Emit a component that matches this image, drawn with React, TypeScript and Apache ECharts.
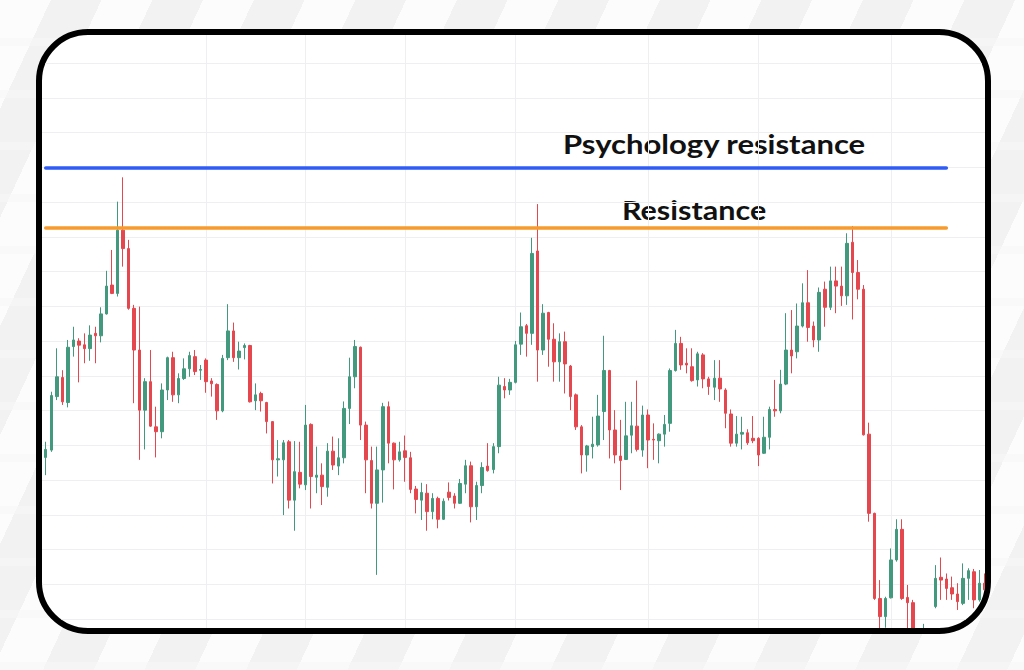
import React, { useEffect, useRef } from "react";
import * as echarts from "echarts";

// [open, close, low, high]
const riseToFirstPeak: number[][] = [
  [80.0, 86.6, 78.0, 87.0],
  [86.5, 88.8, 81.4, 91.0],
  [88.6, 104.3, 88.1, 105.4],
  [104.0, 109.7, 103.0, 117.9],
  [109.5, 102.5, 101.6, 111.6],
  [102.3, 118.2, 100.9, 120.3],
  [118.4, 120.3, 115.5, 124.1],
  [120.0, 118.8, 108.1, 120.8],
  [118.9, 117.8, 113.6, 122.2],
  [117.8, 121.7, 114.3, 124.5],
  [122.2, 121.5, 113.6, 124.1],
  [121.5, 127.8, 119.6, 129.7],
  [127.8, 135.8, 127.6, 140.2],
  [136.1, 133.7, 133.5, 146.2],
  [133.7, 151.9, 132.8, 160.1],
  [151.9, 146.6, 141.4, 167.1],
];

const firstDecline: number[][] = [
  [146.6, 129.4, 129.0, 149.1],
  [129.4, 117.4, 102.1, 130.4],
  [117.4, 100.1, 85.8, 129.9],
  [100.1, 108.3, 88.8, 109.3],
  [108.3, 95.5, 95.3, 117.4],
  [95.3, 93.9, 86.5, 101.1],
  [93.9, 105.9, 92.0, 107.8],
  [105.9, 115.2, 103.0, 115.5],
  [115.2, 104.5, 102.5, 116.9],
  [104.5, 109.2, 102.1, 110.7],
  [109.2, 112.0, 108.8, 115.0],
  [112.0, 115.8, 109.7, 116.9],
  [115.5, 111.2, 110.2, 117.4],
  [111.6, 111.8, 108.8, 113.1],
  [114.5, 108.3, 105.1, 115.0],
  [108.5, 107.7, 104.0, 109.3],
  [107.5, 99.9, 97.3, 107.8],
  [99.9, 115.0, 99.5, 116.0],
  [115.2, 122.9, 114.5, 130.6],
  [122.9, 115.2, 114.0, 125.3],
  [115.2, 117.1, 111.8, 119.8],
  [118.1, 118.7, 114.7, 119.3],
  [118.7, 102.5, 102.3, 118.9],
  [102.8, 104.5, 100.1, 107.8],
  [104.9, 102.8, 99.7, 105.4],
  [102.3, 96.8, 93.4, 102.5],
  [96.8, 85.8, 79.0, 96.9],
  [85.8, 86.1, 81.0, 91.5],
  [85.8, 90.7, 69.9, 91.5],
  [91.0, 74.2, 71.8, 91.5],
  [74.2, 82.4, 65.4, 91.2],
  [82.2, 78.8, 77.6, 91.0],
  [78.6, 95.8, 77.1, 101.6],
  [96.0, 81.0, 71.8, 96.3],
  [80.8, 81.4, 76.2, 89.6],
  [81.4, 78.1, 72.8, 84.8],
  [77.9, 88.3, 75.2, 90.6],
  [88.3, 84.3, 82.9, 92.5],
  [84.0, 86.4, 81.4, 92.0],
];

const middleRange: number[][] = [
  [86.4, 100.6, 84.8, 102.6],
  [100.6, 109.7, 96.1, 115.2],
  [109.7, 118.4, 106.4, 120.3],
  [118.2, 95.8, 91.5, 118.4],
  [95.8, 85.8, 76.2, 96.8],
  [85.6, 73.3, 71.8, 89.6],
  [73.3, 82.9, 52.7, 89.6],
  [82.9, 101.1, 73.5, 102.2],
  [101.1, 90.6, 84.8, 102.6],
  [90.6, 85.8, 77.3, 90.8],
  [85.8, 88.1, 85.3, 91.0],
  [88.4, 86.5, 79.5, 92.8],
  [86.4, 77.3, 76.2, 88.1],
  [77.4, 74.4, 70.4, 78.3],
  [74.2, 76.4, 68.5, 79.2],
  [76.2, 70.9, 65.4, 78.8],
  [70.9, 74.7, 68.7, 76.2],
  [74.7, 68.7, 66.1, 75.2],
  [68.7, 73.9, 68.5, 74.7],
  [76.5, 75.0, 74.1, 79.3],
  [75.4, 73.3, 71.8, 76.2],
  [73.3, 79.0, 73.1, 80.3],
  [78.8, 84.1, 76.2, 85.8],
  [84.1, 72.3, 67.8, 85.3],
  [72.3, 78.4, 68.5, 79.5],
  [78.4, 83.6, 76.2, 85.1],
  [84.0, 82.7, 82.4, 90.6],
  [83.0, 89.6, 81.9, 90.6],
  [89.6, 107.3, 87.7, 109.7],
  [106.9, 105.9, 103.5, 109.3],
  [105.9, 108.1, 104.5, 109.1],
  [108.1, 118.9, 107.8, 120.0],
  [119.1, 124.1, 116.0, 128.2],
  [124.4, 122.2, 115.5, 124.9],
  [122.2, 145.2, 118.9, 149.7],
  [145.9, 117.4, 108.3, 159.4],
];

const secondDecline: number[][] = [
  [117.4, 128.0, 116.0, 130.6],
  [128.2, 120.5, 112.6, 128.4],
  [120.5, 114.0, 108.3, 125.1],
  [114.0, 119.8, 108.3, 122.2],
  [119.8, 113.4, 104.9, 122.7],
  [112.8, 104.0, 100.1, 113.1],
  [104.5, 95.3, 94.4, 104.9],
  [95.3, 87.2, 81.9, 95.8],
  [87.2, 89.8, 82.4, 90.1],
  [89.6, 90.3, 86.2, 98.2],
  [90.1, 98.4, 89.6, 104.5],
  [99.7, 111.5, 91.5, 121.5],
  [111.5, 94.4, 86.2, 111.7],
  [94.4, 87.2, 84.8, 100.1],
  [86.9, 85.6, 77.1, 97.3],
  [85.9, 92.7, 85.8, 102.5],
  [92.9, 95.6, 87.7, 102.5],
  [95.5, 88.8, 88.2, 108.6],
  [88.6, 98.7, 86.7, 101.4],
  [98.7, 91.5, 83.4, 100.3],
  [91.7, 91.5, 85.8, 96.3],
  [91.3, 93.2, 84.8, 93.4],
  [93.2, 96.0, 89.6, 98.7],
  [96.3, 111.5, 93.9, 112.1],
  [111.5, 119.3, 111.2, 123.2],
  [119.3, 113.1, 111.7, 121.2],
  [113.6, 113.1, 110.7, 117.9],
  [112.6, 108.6, 108.3, 117.9],
  [108.8, 116.3, 106.9, 116.9],
  [116.0, 109.1, 106.4, 116.5],
  [109.1, 106.9, 104.5, 109.7],
  [106.7, 109.3, 103.0, 114.5],
  [109.3, 106.2, 102.5, 114.5],
  [105.9, 99.2, 94.9, 106.4],
  [99.0, 90.6, 89.6, 100.3],
  [90.6, 93.2, 89.6, 98.4],
  [93.2, 93.7, 88.8, 98.2],
  [93.6, 90.7, 90.1, 94.6],
  [92.0, 91.3, 90.6, 98.4],
  [92.0, 87.2, 84.0, 92.3],
];

const thirdPeakAndCrash: number[][] = [
  [87.7, 92.3, 87.5, 98.2],
  [92.3, 100.3, 88.8, 101.1],
  [100.3, 99.9, 98.2, 108.8],
  [99.9, 107.6, 99.2, 111.7],
  [107.6, 117.4, 107.3, 128.0],
  [117.4, 115.7, 110.7, 128.9],
  [116.9, 124.3, 115.0, 130.8],
  [124.3, 131.0, 123.9, 136.6],
  [131.0, 123.9, 119.8, 140.4],
  [124.3, 120.3, 118.2, 125.6],
  [120.3, 134.0, 116.9, 135.4],
  [134.9, 129.7, 124.1, 137.1],
  [129.7, 137.3, 128.9, 141.4],
  [137.3, 135.8, 128.0, 141.4],
  [135.8, 133.0, 130.1, 141.4],
  [133.0, 148.1, 130.4, 151.0],
  [148.4, 139.7, 126.2, 153.1],
  [139.7, 134.9, 132.0, 143.3],
  [134.9, 93.0, 92.8, 136.1],
  [93.2, 70.4, 68.0, 96.5],
  [70.4, 45.9, 45.5, 70.6],
  [45.9, 40.7, 37.0, 51.2],
  [40.7, 45.9, 37.5, 46.4],
  [46.1, 57.0, 45.9, 60.3],
  [57.0, 65.8, 56.5, 68.7],
  [65.8, 45.9, 45.5, 68.7],
  [46.2, 44.7, 37.0, 49.8],
  [44.7, 36.5, 33.5, 45.5],
  [36.5, 34.0, 31.5, 37.0],
  [34.0, 35.5, 32.5, 38.6],
  [35.5, 35.0, 33.0, 37.2],
  [43.6, 51.7, 43.1, 55.5],
  [52.0, 51.2, 45.5, 57.7],
  [51.5, 48.8, 45.5, 53.1],
  [49.0, 47.2, 45.5, 52.2],
  [47.2, 45.0, 42.6, 50.3],
  [44.5, 51.7, 44.0, 56.0],
  [51.7, 53.9, 45.5, 54.6],
  [53.6, 45.5, 43.1, 54.4],
  [45.5, 50.3, 45.0, 54.1],
  [50.3, 48.4, 46.9, 53.1],
];

const psychologyResistance = 170.0;
const resistance = 152.5;
const levelLabels = ["Psychology resistance", "Resistance"];
const verticalGridIndices = [30, 48, 66, 86, 110, 130, 154];
const yTicks = { min: 30, max: 210, interval: 10 };

const candles = [
  ...riseToFirstPeak,
  ...firstDecline,
  ...middleRange,
  ...secondDecline,
  ...thirdPeakAndCrash,
];
const categories = candles.map((_, i) => `Bar ${i + 1}`);

const UP = "#42997d";
const DOWN = "#e5474f";
const GRID = "#efeff2";

function Chart() {
  const ref = useRef<HTMLDivElement>(null);
  useEffect(() => {
    if (!ref.current) return;
    const chart = echarts.init(ref.current, undefined, { renderer: "svg" });
    const lastLineIdx = 164;
    const labelStyle = {
      font: "bold 27px Lato",
      fill: "#111111",
      textAlign: "left",
      textVerticalAlign: "middle",
      align: "left",
      verticalAlign: "middle",
    };
    chart.setOption({
      animation: false,
      backgroundColor: "transparent",
      grid: { left: 40.2, right: 39, top: 28.25, bottom: 16.25, containLabel: false },
      xAxis: {
        type: "category",
        data: categories,
        boundaryGap: false,
        axisLine: { show: false },
        axisTick: { show: false, interval: (i: number) => verticalGridIndices.includes(i) },
        axisLabel: { show: false },
        splitLine: {
          show: true,
          interval: (i: number) => verticalGridIndices.includes(i),
          lineStyle: { color: GRID, width: 1 },
        },
      },
      yAxis: {
        type: "value",
        min: yTicks.min,
        max: yTicks.max,
        interval: yTicks.interval,
        scale: true,
        axisLine: { show: false },
        axisTick: { show: false },
        axisLabel: { show: false },
        splitLine: { show: true, lineStyle: { color: GRID, width: 1 } },
      },
      series: [
        {
          type: "candlestick",
          data: candles,
          barWidth: 3,
          clip: false,
          itemStyle: {
            color: UP,
            color0: DOWN,
            borderColor: UP,
            borderColor0: DOWN,
            borderWidth: 1,
          },
          markLine: {
            silent: true,
            symbol: ["none", "none"],
            label: { show: false },
            data: [
              [
                { coord: [1, psychologyResistance], lineStyle: { color: "#2f5cf6", width: 3.5, type: "solid", cap: "round" } },
                { coord: [lastLineIdx, psychologyResistance] },
              ],
              [
                { coord: [1, resistance], lineStyle: { color: "#f79b2e", width: 3.5, type: "solid", cap: "round" } },
                { coord: [lastLineIdx, resistance] },
              ],
            ],
          },
        },
      ],
      graphic: [
        {
          type: "text",
          x: 563,
          y: 143,
          scaleX: 1.15,
          style: { text: levelLabels[0], ...labelStyle },
        },
        {
          type: "text",
          x: 622,
          y: 210,
          scaleX: 1.13,
          style: { text: levelLabels[1], ...labelStyle },
        },
      ],
    });
    return () => chart.dispose();
  }, []);
  return (
    <div
      ref={ref}
      style={{ position: "absolute", left: -42, top: -35, width: 1024, height: 670 }}
    />
  );
}

export default function App() {
  return (
    <div
      style={{
        position: "fixed",
        left: 0,
        top: 0,
        width: 1024,
        height: 670,
        overflow: "hidden",
        backgroundColor: "#f7f7f7",
        backgroundImage:
          "repeating-linear-gradient(0deg, rgba(247,247,247,0.6) 0px, rgba(247,247,247,0.6) 8px, transparent 8px, transparent 52px), repeating-linear-gradient(115deg, #fcfcfc 0px, #fcfcfc 46px, #f2f2f2 46px, #f2f2f2 92px)",
      }}
    >
      <div
        style={{
          position: "absolute",
          left: 36,
          top: 29,
          width: 955,
          height: 605,
          boxSizing: "border-box",
          border: "6px solid #000",
          borderRadius: 52,
          overflow: "hidden",
          background: "#ffffff",
        }}
      >
        <Chart />
      </div>
    </div>
  );
}
